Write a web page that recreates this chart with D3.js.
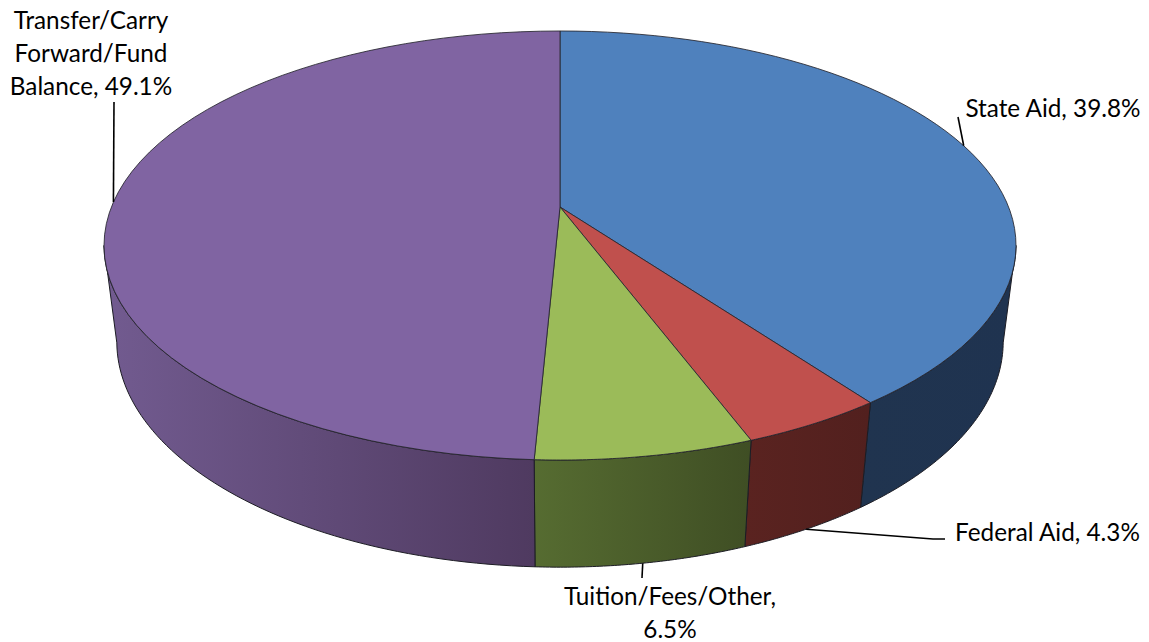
<!DOCTYPE html>
<html>
<head>
<meta charset="utf-8">
<script src="https://cdn.jsdelivr.net/npm/d3@7/dist/d3.min.js"></script>
<style>
  html, body { margin: 0; padding: 0; background: #fff; }
  svg { display: block; }
  text { font-family: Lato, "Open Sans", sans-serif; font-size: 24.3px; fill: #000; }
</style>
</head>
<body>
<svg id="chart" width="1149" height="642"></svg>
<script>
// Revenue shares, drawn clockwise from twelve o'clock
const categories = ["State Aid", "Federal Aid", "Tuition/Fees/Other", "Transfer/Carry Forward/Fund Balance"];
const shares = [39.8, 4.3, 6.5, 49.1];
const labelLines = [
  ["State Aid, 39.8%"],
  ["Federal Aid, 4.3%"],
  ["Tuition/Fees/Other,", "6.5%"],
  ["Transfer/Carry", "Forward/Fund", "Balance, 49.1%"]
];
const topColors = ["#4f81bd", "#c0504d", "#9bbb59", "#8064a2"];
const wallStops = [
  ["#20344f", "#1f3350"],
  ["#5a2320", "#52201e"],
  ["#566c31", "#3f4e24"],
  ["#725b90", "#4f3a60"]
];

// Camera model: a tilted disc seen in perspective, with height as a second depth term
const view = { cx: 560, cy: 207, ax: 448.6, by: 207.6, persp: 0.1795, baseW: 1.028, drop: 98 };

function rim(angle) {
  const u = Math.sin(angle), v = Math.cos(angle), w = 1 + view.persp * v;
  return [view.cx + view.ax * u / w, view.cy - view.by * v / w];
}
function base(angle) {
  const u = Math.sin(angle), v = Math.cos(angle), w = view.baseW + view.persp * v;
  return [view.cx + view.ax * u / w, view.cy + (view.drop - view.by * v) / w];
}

// Wall is visible between the two angles where the rim reaches its horizontal extremes
const sideLimit = Math.acos(-view.persp);
const wallStart = sideLimit, wallEnd = 2 * Math.PI - sideLimit;

const slices = d3.pie().sort(null).value(d => d)(shares);
const line = d3.line();
const sample = (a0, a1) => d3.range(0, 61).map(i => a0 + (a1 - a0) * i / 60);

const svg = d3.select("#chart");
const defs = svg.append("defs");
const walls = svg.append("g");
const tops = svg.append("g");
const leaders = svg.append("g");
const labels = svg.append("g");

slices.forEach((s, i) => {
  const a0 = Math.max(s.startAngle, wallStart), a1 = Math.min(s.endAngle, wallEnd);
  if (a1 <= a0) return;
  const arcAngles = sample(a0, a1);
  const outline = arcAngles.map(rim).concat(arcAngles.slice().reverse().map(base));
  const xs = d3.extent(outline, p => p[0]);
  const grad = defs.append("linearGradient")
    .attr("id", "wall" + i)
    .attr("gradientUnits", "userSpaceOnUse")
    .attr("x1", xs[0]).attr("x2", xs[1]).attr("y1", 0).attr("y2", 0);
  grad.append("stop").attr("offset", 0).attr("stop-color", wallStops[i][0]);
  grad.append("stop").attr("offset", 1).attr("stop-color", wallStops[i][1]);
  walls.append("path")
    .attr("d", line(outline) + "Z")
    .attr("fill", `url(#wall${i})`)
    .attr("stroke", "#1c1c24")
    .attr("stroke-width", 1)
    .attr("stroke-linejoin", "round");
});

slices.forEach((s, i) => {
  const pts = [[view.cx, view.cy]].concat(sample(s.startAngle, s.endAngle).map(rim));
  tops.append("path")
    .attr("d", line(pts) + "Z")
    .attr("fill", topColors[i])
    .attr("stroke", "#26262e")
    .attr("stroke-opacity", 0.85)
    .attr("stroke-width", 1)
    .attr("stroke-linejoin", "round");
});

// Label boxes: centre x, first baseline, and the leader's path out of the slice midpoint
const labelLayout = [
  { x: 1053, y: 117, anchor: rim,  bend: [[958, 117]] },
  { x: 1047.5, y: 541, anchor: base, bend: [[933, 539], [945, 539]] },
  { x: 670,  y: 605, anchor: base, bend: [[642, 578]] },
  { x: 91,   y: 29,  anchor: rim,  bend: [[114, 102]] }
];
const lineGap = 33;

slices.forEach((s, i) => {
  const layout = labelLayout[i];
  const mid = (s.startAngle + s.endAngle) / 2;
  leaders.append("path")
    .attr("d", line([layout.anchor(mid)].concat(layout.bend)))
    .attr("fill", "none")
    .attr("stroke", "#000")
    .attr("stroke-width", 1.6);
  const t = labels.append("text").attr("text-anchor", "middle");
  labelLines[i].forEach((txt, j) => {
    t.append("tspan").attr("x", layout.x).attr("y", layout.y + j * lineGap).text(txt);
  });
});
</script>
</body>
</html>
